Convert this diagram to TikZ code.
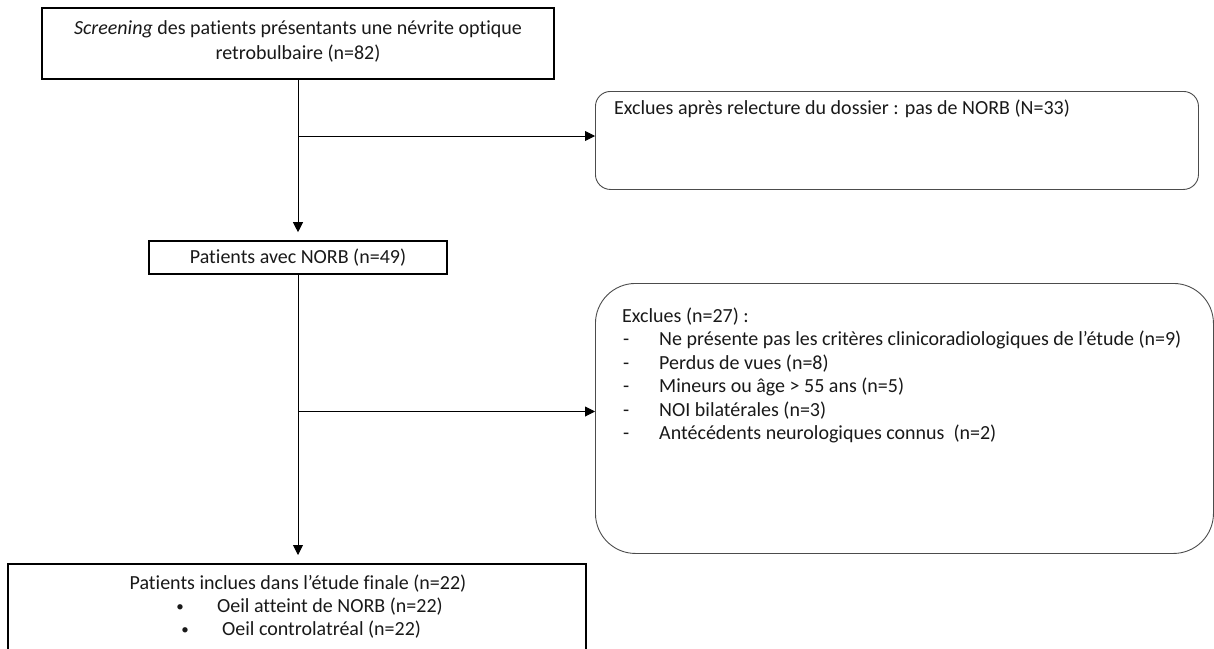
\documentclass[tikz,border=0pt]{standalone}
\usepackage{fontspec}
\setmainfont{Carlito}[Ligatures=NoCommon]
\usetikzlibrary{arrows.meta,positioning}

\tikzset{
  mainbox/.style={draw=black, line width=1.6pt, inner sep=0pt},
  exclbox/.style={draw=black!70, line width=0.9pt, inner sep=0pt},
  txt/.style={inner sep=0pt, font=\fontsize{20}{23.5}\selectfont, text=black!90},
  puce/.style={inner sep=0pt, font=\fontsize{15}{15}\selectfont, text=black!90},
  arr/.style={-{Triangle[length=10pt,width=10pt]}, line width=0.9pt},
}

\begin{document}
\begin{tikzpicture}[x=1pt, y=-1pt]
    \clip (0,0) rectangle (1214,648);
    % boites principales
    \node[mainbox, minimum width=512pt, minimum height=71pt, anchor=north] (screen) at (298,7) {};
    \node[txt, anchor=base] (screen1) at (298,34) {\textit{Screening} des patients présentants une névrite optique};
    \node[txt, anchor=base] (screen2) at (298,59) {retrobulbaire (n=82)};
    \node[mainbox, txt, minimum width=298pt, minimum height=33pt] (norb) at (298,257.5) {Patients avec NORB (n=49)};
    \node[mainbox, minimum width=578pt, minimum height=110pt, anchor=north] (final) at (297,563) {};
    \node[txt, anchor=base] (final1) at (298,589) {Patients inclues dans l’étude finale (n=22)};
    \node[puce, anchor=base] (bul1) at (180,611) {•};
    \node[txt, anchor=base west] (final2) at (217,612) {Oeil atteint de NORB (n=22)};
    \node[puce, anchor=base] (bul2) at (185,634) {•};
    \node[txt, anchor=base west] (final3) at (222,635) {Oeil controlatréal (n=22)};

    % exclusions
    \node[exclbox, rounded corners=15pt, minimum width=603pt, minimum height=98pt, anchor=north west] (excl1) at (595,91) {};
    \node[txt, anchor=base west] (excl1txt) at (614,114.5) {Exclues après relecture du dossier : pas de NORB (N=33)};
    \node[exclbox, rounded corners=40pt, minimum width=618pt, minimum height=270pt, anchor=north west] (excl2) at (595,283) {};
    \node[txt, anchor=base west] (excl2txt) at (622,322) {Exclues (n=27) :};
    \foreach \i/\t in {1/Ne présente pas les critères clinicoradiologiques de l’étude (n=9),
                       2/Perdus de vues (n=8),
                       3/Mineurs ou âge > 55 ans (n=5),
                       4/NOI bilatérales (n=3),
                       5/Antécédents neurologiques connus~ (n=2)} {
        \node[txt, anchor=base west] (dash\i) at (623,{322+23.5*\i}) {-};
        \node[txt, anchor=base west] (item\i) at (659,{322+23.5*\i}) {\t};
    }

    % fleches
    \coordinate (b1) at (298,136);
    \coordinate (b2) at (298,411.5);
    \draw[arr, shorten >=8pt] (screen.south) -- (norb.north);
    \draw[arr] (b1) -- (b1 -| excl1.west);
    \draw[arr, shorten >=8pt] (norb.south) -- (norb.south |- final.north);
    \draw[arr] (b2) -- (b2 -| excl2.west);
\end{tikzpicture}
\end{document}
